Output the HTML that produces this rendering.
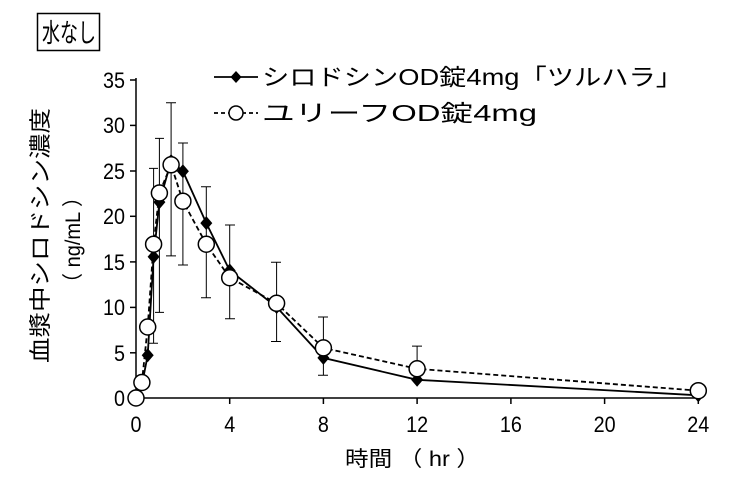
<!DOCTYPE html>
<html><head><meta charset="utf-8"><style>
html,body{margin:0;padding:0;background:#fff;}
svg{display:block;font-family:"Liberation Sans","Noto Sans CJK JP",sans-serif;}
</style></head><body>
<svg width="750" height="498" viewBox="0 0 750 498" xmlns="http://www.w3.org/2000/svg">
<rect x="37.5" y="13.5" width="62" height="37" fill="#fff" stroke="#000" stroke-width="1.5"/>
<text x="42" y="42" font-size="26" textLength="54" lengthAdjust="spacingAndGlyphs">水なし</text>
<g stroke="#000" stroke-width="1.5" fill="none">
<line x1="136" y1="78" x2="136" y2="398"/>
<line x1="136" y1="398" x2="700" y2="398"/>
<line x1="130" y1="80" x2="136" y2="80"/>
<line x1="130" y1="125.4" x2="136" y2="125.4"/>
<line x1="130" y1="171" x2="136" y2="171"/>
<line x1="130" y1="216.3" x2="136" y2="216.3"/>
<line x1="130" y1="261.9" x2="136" y2="261.9"/>
<line x1="130" y1="307.4" x2="136" y2="307.4"/>
<line x1="130" y1="352.8" x2="136" y2="352.8"/>
<line x1="229.7" y1="398" x2="229.7" y2="404"/>
<line x1="323.4" y1="398" x2="323.4" y2="404"/>
<line x1="417.1" y1="398" x2="417.1" y2="404"/>
<line x1="510.9" y1="398" x2="510.9" y2="404"/>
<line x1="604.6" y1="398" x2="604.6" y2="404"/>
<line x1="698.3" y1="398" x2="698.3" y2="404"/>
</g>
<g font-size="22" text-anchor="end">
<text x="125" y="88" textLength="22" lengthAdjust="spacingAndGlyphs">35</text>
<text x="125" y="133" textLength="22" lengthAdjust="spacingAndGlyphs">30</text>
<text x="125" y="179" textLength="22" lengthAdjust="spacingAndGlyphs">25</text>
<text x="125" y="224" textLength="22" lengthAdjust="spacingAndGlyphs">20</text>
<text x="125" y="270" textLength="22" lengthAdjust="spacingAndGlyphs">15</text>
<text x="125" y="315" textLength="22" lengthAdjust="spacingAndGlyphs">10</text>
<text x="125" y="361" textLength="11" lengthAdjust="spacingAndGlyphs">5</text>
<text x="125" y="406" textLength="11" lengthAdjust="spacingAndGlyphs">0</text>
</g>
<g font-size="22" text-anchor="middle">
<text x="136" y="432" textLength="11" lengthAdjust="spacingAndGlyphs">0</text>
<text x="229.7" y="432" textLength="11" lengthAdjust="spacingAndGlyphs">4</text>
<text x="323.4" y="432" textLength="11" lengthAdjust="spacingAndGlyphs">8</text>
<text x="417.1" y="432" textLength="22" lengthAdjust="spacingAndGlyphs">12</text>
<text x="510.9" y="432" textLength="22" lengthAdjust="spacingAndGlyphs">16</text>
<text x="604.6" y="432" textLength="22" lengthAdjust="spacingAndGlyphs">20</text>
<text x="698.3" y="432" textLength="22" lengthAdjust="spacingAndGlyphs">24</text>
</g>
<text x="345" y="466" font-size="21" textLength="135" lengthAdjust="spacingAndGlyphs">時間 （ hr ）</text>
<text transform="translate(48,363) rotate(-90)" font-size="22" textLength="255" lengthAdjust="spacingAndGlyphs">血漿中シロドシン濃度</text>
<text transform="translate(80,293) rotate(-90)" font-size="21" textLength="106" lengthAdjust="spacingAndGlyphs">（ ng/mL ）</text>
<g stroke="#000" stroke-width="1" fill="none">
<path d="M153.6 343.3V168.4M149 168.4h9M149 343.3h9"/>
<path d="M159.4 312.4V138.4M155 138.4h9M155 312.4h9"/>
<path d="M171.1 255.9V102.8M166 102.8h10M166 255.9h10"/>
<path d="M182.9 265V143M178 143h10M178 265h10"/>
<path d="M206.3 297.8V186.7M201 186.7h10M201 297.8h10"/>
<path d="M229.7 318.7V225M225 225h10M225 318.7h10"/>
<path d="M276.6 341.5V262.3M271 262.3h10M271 341.5h10"/>
<path d="M323.4 375.2V317M318 317h10M318 375.2h10"/>
<path d="M412 346.1h10M417.1 346.1V369"/>
</g>
<polyline fill="none" stroke="#000" stroke-width="1.8" points="136,398 141.9,385 147.7,355.2 153.6,256.8 159.4,202.1 171.1,161.1 182.9,171.2 206.3,223.1 229.7,270.5 276.6,307 323.4,357.9 417.1,379.8 698.3,395.3"/>
<g fill="#000">
<path d="M0,-7L6,0L0,7L-6,0Z" transform="translate(147.7,355.2)"/>
<path d="M0,-7L6,0L0,7L-6,0Z" transform="translate(153.6,256.8)"/>
<path d="M0,-7L6,0L0,7L-6,0Z" transform="translate(159.4,202.1)"/>
<path d="M0,-7L6,0L0,7L-6,0Z" transform="translate(171.1,161.1)"/>
<path d="M0,-7L6,0L0,7L-6,0Z" transform="translate(182.9,171.2)"/>
<path d="M0,-7L6,0L0,7L-6,0Z" transform="translate(206.3,223.1)"/>
<path d="M0,-7L6,0L0,7L-6,0Z" transform="translate(229.7,270.5)"/>
<path d="M0,-7L6,0L0,7L-6,0Z" transform="translate(276.6,307)"/>
<path d="M0,-7L6,0L0,7L-6,0Z" transform="translate(323.4,357.9)"/>
<path d="M0,-7L6,0L0,7L-6,0Z" transform="translate(417.1,379.8)"/>
<path d="M0,-7L6,0L0,7L-6,0Z" transform="translate(698.3,395.3)"/>
</g>
<polyline fill="none" stroke="#000" stroke-width="1.8" stroke-dasharray="5,3" points="136,398 141.9,382.5 147.7,327 153.6,244.2 159.4,193 171.1,164.8 182.9,201.2 206.3,244.2 229.7,277.7 276.6,303.3 323.4,347.9 417.1,368.8 698.3,390.7"/>
<g fill="#fff" stroke="#000" stroke-width="1.5">
<circle cx="136" cy="398" r="8"/><circle cx="141.9" cy="382.5" r="8"/><circle cx="147.7" cy="327" r="8"/>
<circle cx="153.6" cy="244.2" r="8"/><circle cx="159.4" cy="193" r="8"/><circle cx="171.1" cy="164.8" r="8"/>
<circle cx="182.9" cy="201.2" r="8"/><circle cx="206.3" cy="244.2" r="8"/><circle cx="229.7" cy="277.7" r="8"/>
<circle cx="276.6" cy="303.3" r="8"/><circle cx="323.4" cy="347.9" r="8"/><circle cx="417.1" cy="368.8" r="8"/>
<circle cx="698.3" cy="390.7" r="8"/>
</g>
<line x1="214" y1="77" x2="258" y2="77" stroke="#000" stroke-width="1.8"/>
<path d="M0,-6L5.5,0L0,6L-5.5,0Z" transform="translate(236,77)" fill="#000"/>
<text x="262" y="85" font-size="23" textLength="421" lengthAdjust="spacingAndGlyphs">シロドシンOD錠4mg「ツルハラ」</text>
<line x1="214" y1="113" x2="258" y2="113" stroke="#000" stroke-width="1.8" stroke-dasharray="4,3"/>
<circle cx="236" cy="113" r="7" fill="#fff" stroke="#000" stroke-width="1.5"/>
<text x="262" y="121" font-size="23" textLength="275" lengthAdjust="spacingAndGlyphs">ユリーフOD錠4mg</text>
</svg>
</body></html>
